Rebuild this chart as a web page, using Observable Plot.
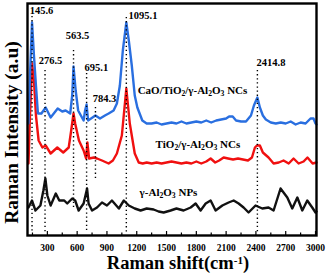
<!DOCTYPE html>
<html><head><meta charset="utf-8">
<script src="https://cdn.jsdelivr.net/npm/d3@7"></script>
<script src="https://cdn.jsdelivr.net/npm/@observablehq/plot@0.6"></script>
<style>body{margin:0;background:#fff}</style>
</head><body><div id="chart"></div>
<script>
// CaO/TiO2/γ-Al2O3 NCs (blue)
const blueX = [110,125,145.6,165,185,205,240,283,333,404,450,484,530,550,563.5,585,610,665,680,695,710,740,784,830,880,917,967,1000,1030,1060,1095,1120,1150,1180,1206,1256,1300,1350,1400,1450,1500,1550,1600,1650,1700,1750,1800,1850,1900,1950,2000,2050,2100,2130,2166,2200,2250,2300,2350,2380,2414.8,2440,2470,2500,2550,2600,2650,2700,2750,2800,2850,2900,2950,2980,3000,3010];
const blueY = [112,160,213,180,150,122,122,128,118,127,124,125,122,140,169,145,125,115,125,131,115,117,120,117,120,122,125,132,150,185,213,195,170,140,128,115,112,112,113,111,112,113,112,114,112,113,114,113,115,113,115,116,117,119,119,115,114,114,120,130,138,128,120,116,113,112,113,112,114,111,113,112,117,117,112,111];
// TiO2/γ-Al2O3 NCs (red)
const redX = [110,125,145.6,165,185,212,250,283,333,400,460,515,540,563.5,580,618,665,690,703,720,770,800,850,917,960,1000,1050,1095,1130,1180,1220,1260,1300,1350,1400,1450,1500,1550,1600,1650,1700,1750,1800,1850,1900,1944,1990,2030,2075,2120,2170,2220,2270,2320,2360,2390,2410,2440,2470,2527,2578,2630,2678,2730,2779,2830,2880,2919,2971,3010];
const redY = [72,120,172,155,120,95,88,90,82,88,83,88,105,122,112,95,85,77,93,77,78,77,75,72,75,82,100,147,112,82,73,72,73,72,73,72,73,74,73,72,73,72,74,72,74,77,73,75,78,77,76,77,76,75,78,88,90,90,83,78,72,73,75,72,77,72,74,78,72,73];
// γ-Al2O3 NPs (black)
const blackX = [110,145,180,230,260,280,300,333,385,420,470,500,550,580,615,665,700,715,750,800,850,900,950,1020,1070,1120,1180,1239,1300,1370,1420,1471,1541,1600,1672,1743,1793,1843,1894,1944,1994,2062,2125,2176,2226,2276,2326,2396,2464,2527,2578,2648,2716,2766,2817,2867,2917,2967,3000,3010];
const blackY = [28,35,25,30,45,57,40,30,42,35,35,32,37,35,25,32,47,32,25,28,33,30,35,27,35,30,27,25,27,26,24,23,25,27,25,28,32,25,32,35,25,30,33,35,32,28,23,30,27,28,25,47,38,27,38,25,35,28,23,24];

// Peak annotations
const peakPos = [145.6, 276.5, 563.5, 695.1, 784.3, 1095.1, 2414.8];
const peakText = ["145.6","276.5","563.5","695.1","784.3","1095.1","2414.8"];
const peakLabelX = [122, 213, 484, 675, 756, 1118, 2407];
const peakLabelY = [225, 175, 200, 168, 137, 220, 173];
const peakTop = [219, 165, 185, 162, 128, 218, 165];
const peakBottom = [2, 2, 28, 2, 55, 2, 2];

// Series labels
const seriesNames = ["CaO/TiO₂/γ-Al₂O₃ NCs", "TiO₂/γ-Al₂O₃ NCs", "γ-Al₂O₃ NPs"];
const seriesLabelX = [1209, 1390, 1229];
const seriesLabelY = [145, 91, 43];

// Axis ticks
const xTicks = [300,600,900,1200,1500,1800,2100,2400,2700,3000];
const xMinor = [150,450,750,1050,1350,1650,1950,2250,2550,2850];
const xTitle = "Raman shift(cm⁻¹)";
const yTitle = "Raman Intensity (a.u)";

const toRows = (xs, ys) => xs.map((x, i) => ({x, y: ys[i]}));
const blue = toRows(blueX, blueY), red = toRows(redX, redY), black = toRows(blackX, blackY);
const peaks = peakPos.map((p, i) => ({p, t: peakText[i], lx: peakLabelX[i], ly: peakLabelY[i], top: peakTop[i], bot: peakBottom[i]}));
const sLabels = seriesNames.map((n, i) => ({n, x: seriesLabelX[i], y: seriesLabelY[i]}));

const chart = Plot.plot({
  width: 331, height: 278,
  marginLeft: 27, marginRight: 15, marginTop: 3, marginBottom: 43,
  x: {domain: [100, 3010]},
  y: {domain: [0, 232], axis: null},
  style: {fontFamily: "'Liberation Serif','Times New Roman',serif", fontWeight: "bold", color: "#000", background: "#fff"},
  marks: [
    Plot.line(black, {x: "x", y: "y", stroke: "#111", strokeWidth: 2.4}),
    Plot.line(red, {x: "x", y: "y", stroke: "#f01010", strokeWidth: 2.4}),
    Plot.line(blue, {x: "x", y: "y", stroke: "#2a6fe0", strokeWidth: 2.4}),
    Plot.ruleX(peaks, {x: "p", y1: "top", y2: "bot", stroke: "#000", strokeWidth: 1.4, strokeDasharray: "1.3,2.8"}),
    Plot.text(peaks, {x: "lx", y: "ly", text: "t", textAnchor: "start", fontSize: 10.5, fontWeight: "bold", fill: "#000"}),
    Plot.text(sLabels, {x: "x", y: "y", text: "n", textAnchor: "start", fontSize: 11, fontWeight: "bold", fill: "#000"}),
    Plot.ruleX(xTicks, {x: d => d, y1: 0, y2: 4, stroke: "#000", strokeWidth: 1.2}),
    Plot.ruleX(xMinor, {x: d => d, y1: 0, y2: 2.5, stroke: "#000", strokeWidth: 1.2}),
    Plot.frame({stroke: "#000", strokeWidth: 2.4}),
    Plot.axisX(xTicks, {tickSize: 0, tickPadding: 9, fontSize: 9.5, fontWeight: "bold", label: null, tickFormat: d => String(d)}),
    Plot.text([xTitle], {frameAnchor: "bottom", textAnchor: "middle", dx: 6, dy: 33.5, fontSize: 18.5, fontWeight: "bold", fill: "#000"}),
    Plot.text([yTitle], {frameAnchor: "left", textAnchor: "middle", rotate: -90, dx: -15.5, dy: 13, fontSize: 19.5, fontWeight: "bold", fill: "#000"})
  ]
});

// render subscripts / superscripts as real tspans
const subMap = {"₂": "2", "₃": "3"}, supMap = {"⁻": "-", "¹": "1"};
chart.querySelectorAll("text").forEach(el => {
  const s = el.textContent;
  if (!/[₂₃⁻¹]/.test(s)) return;
  const runs = [];
  for (const ch of s) {
    const type = subMap[ch] ? "sub" : supMap[ch] ? "sup" : "n";
    const c = subMap[ch] || supMap[ch] || ch;
    if (runs.length && runs[runs.length - 1].type === type) runs[runs.length - 1].s += c;
    else runs.push({type, s: c});
  }
  while (el.firstChild) el.removeChild(el.firstChild);
  for (const r of runs) {
    const t = document.createElementNS("http://www.w3.org/2000/svg", "tspan");
    t.textContent = r.s;
    if (r.type === "sub") { t.setAttribute("baseline-shift", "-0.25em"); t.setAttribute("font-size", "70%"); }
    if (r.type === "sup") { t.setAttribute("baseline-shift", "0.45em"); t.setAttribute("font-size", "60%"); }
    el.appendChild(t);
  }
});

document.getElementById("chart").appendChild(chart);
</script>
</body></html>
